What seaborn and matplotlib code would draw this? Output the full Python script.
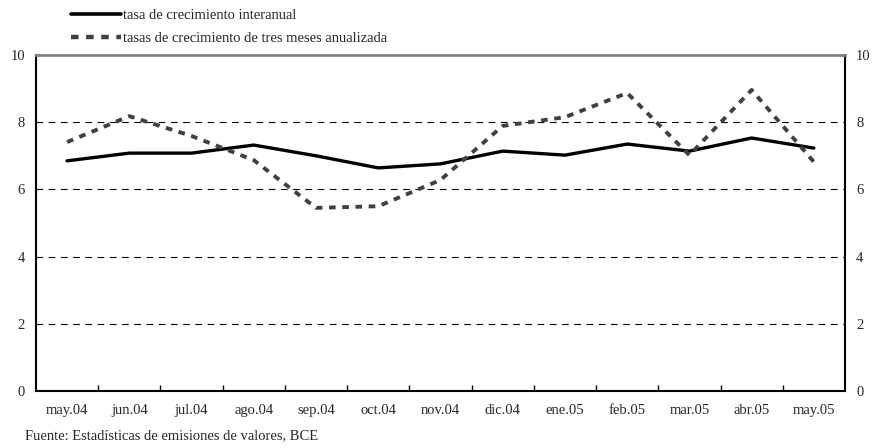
import pandas as pd
import numpy as np
import seaborn as sns
import matplotlib.pyplot as plt

months = ["may.04", "jun.04", "jul.04", "ago.04", "sep.04", "oct.04", "nov.04",
          "dic.04", "ene.05", "feb.05", "mar.05", "abr.05", "may.05"]
interanual = [6.85, 7.08, 7.08, 7.32, 7.0, 6.64, 6.76, 7.14, 7.02, 7.35, 7.14, 7.53, 7.23]
tres_meses = [7.41, 8.18, 7.59, 6.87, 5.45, 5.5, 6.28, 7.89, 8.15, 8.87, 7.02, 8.96, 6.82]

lab1 = "tasa de crecimiento interanual"
lab2 = "tasas de crecimiento de tres meses anualizada"

df = pd.DataFrame({"pos": list(range(len(months))) * 2,
                   "valor": interanual + tres_meses,
                   "serie": [lab1] * len(months) + [lab2] * len(months)})

sns.set_style("white")
plt.rcParams["font.family"] = ["Liberation Serif", "DejaVu Serif"]
fs = 10.5

fig = plt.figure(figsize=(8.74, 4.48), dpi=100)
ax = fig.add_axes([0.0412, 0.1272, 0.9256, 0.75])

sns.lineplot(data=df, x="pos", y="valor", hue="serie", style="serie",
             palette={lab1: "black", lab2: "#404040"},
             dashes={lab1: "", lab2: (1.7, 1.7)}, ax=ax)
for ln, lw in zip(ax.lines, [2.4, 2.8]):
    ln.set_linewidth(lw)

ax.set_xlim(-0.5, len(months) - 0.5)
ax.set_ylim(0, 10)
ax.set_yticks([0, 2, 4, 6, 8, 10])
ax.set_xticks(range(len(months)))
ax.set_xticklabels(months)
ax.set_xticks(np.arange(0.5, len(months) - 1, 1), minor=True)
ax.tick_params(axis="x", which="major", length=0, pad=9, labelsize=fs)
ax.tick_params(axis="x", which="minor", direction="in", length=4, width=1, color="black", bottom=True)
ax.tick_params(axis="y", length=0, pad=8, labelsize=fs, labelright=True)
ax.set_xlabel("")
ax.set_ylabel("")

for y in [2, 4, 6, 8]:
    ax.axhline(y, color="black", lw=0.8, ls=(0, (6, 5)), zorder=0)

for s in ["left", "right", "bottom"]:
    ax.spines[s].set_color("black")
    ax.spines[s].set_linewidth(1.5)
ax.spines["top"].set_color("#808080")
ax.spines["top"].set_linewidth(2)

leg = ax.legend(loc="lower left", bbox_to_anchor=(0.036, 1.012), frameon=False,
                fontsize=fs, handlelength=3.4, handletextpad=0.15, labelspacing=0.7,
                borderaxespad=0)
for h, lw in zip(leg.get_lines(), [2.6, 3.2]):
    h.set_linewidth(lw)

fig.text(0.029, 0.02, "Fuente: Estadísticas de emisiones de valores, BCE", fontsize=fs)

fig.savefig("out.png", dpi=100)
